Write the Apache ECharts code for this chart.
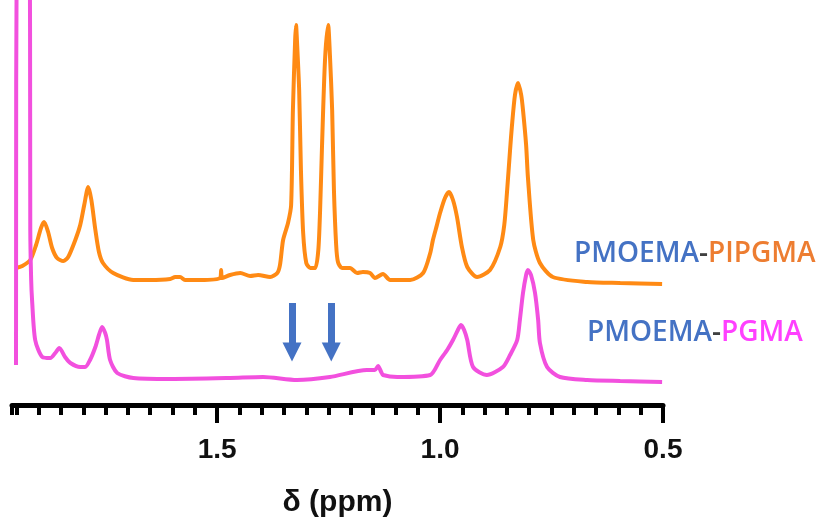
<!DOCTYPE html>
<html>
<head>
<meta charset="utf-8">
<script src="https://cdn.jsdelivr.net/npm/echarts@6.0.0/dist/echarts.min.js"></script>
<style>
  html, body { margin: 0; padding: 0; background: #fff; }
  #chart-container { width: 826px; height: 520px; }
</style>
</head>
<body>
<div id="chart-container"></div>
<script>
// chemical shift (ppm) and intensity (arbitrary units)
var orangePpm = [1.951, 1.937, 1.919, 1.906, 1.895, 1.888, 1.879, 1.870, 1.859, 1.845, 1.834, 1.818, 1.807, 1.798, 1.789, 1.782, 1.773, 1.765, 1.756, 1.733, 1.688, 1.650, 1.605, 1.594, 1.583, 1.572, 1.538, 1.493, 1.491, 1.489, 1.471, 1.448, 1.426, 1.408, 1.381, 1.365, 1.359, 1.352, 1.341, 1.334, 1.330, 1.325, 1.323, 1.321, 1.316, 1.312, 1.307, 1.300, 1.291, 1.280, 1.273, 1.269, 1.265, 1.258, 1.251, 1.247, 1.242, 1.238, 1.233, 1.229, 1.220, 1.202, 1.186, 1.173, 1.157, 1.146, 1.128, 1.112, 1.067, 1.038, 1.022, 1.016, 1.007, 1.000, 0.989, 0.980, 0.971, 0.962, 0.951, 0.939, 0.917, 0.888, 0.865, 0.856, 0.850, 0.843, 0.839, 0.832, 0.825, 0.818, 0.814, 0.807, 0.803, 0.791, 0.776, 0.747, 0.670, 0.596, 0.502];
var orangeInt = [137, 139, 145, 160, 177, 183, 173, 157, 147, 144, 148, 165, 180, 200, 218, 205, 175, 153, 142, 132, 125, 125, 126, 128, 128, 125, 125, 127, 135, 127, 130, 132, 129, 130, 128, 132, 140, 165, 182, 200, 295, 365, 380, 365, 315, 235, 172, 142, 137, 137, 155, 195, 255, 345, 380, 350, 295, 215, 160, 143, 137, 137, 132, 133, 132, 127, 131, 125, 125, 132, 152, 165, 180, 192, 207, 213, 205, 188, 158, 138, 128, 135, 158, 180, 212, 255, 278, 310, 322, 310, 295, 260, 228, 165, 142, 128, 123, 122, 121];

var pinkPpm = [1.951, 1.948, 1.921, 1.919, 1.917, 1.915, 1.908, 1.892, 1.874, 1.863, 1.854, 1.841, 1.829, 1.807, 1.796, 1.785, 1.773, 1.765, 1.758, 1.751, 1.747, 1.740, 1.724, 1.688, 1.605, 1.471, 1.397, 1.321, 1.247, 1.164, 1.146, 1.139, 1.132, 1.128, 1.096, 1.022, 1.000, 0.984, 0.971, 0.960, 0.953, 0.946, 0.939, 0.926, 0.895, 0.859, 0.843, 0.827, 0.821, 0.814, 0.807, 0.803, 0.796, 0.787, 0.780, 0.776, 0.760, 0.731, 0.670, 0.596, 0.502];
var pinkInt = [40, 605, 605, 175, 125, 105, 65, 48, 47, 52, 57, 48, 42, 38, 38, 45, 58, 70, 78, 72, 65, 45, 32, 27, 26, 27, 28, 25, 28, 35, 35, 39, 33, 30, 28, 30, 45, 55, 65, 75, 80, 75, 65, 38, 30, 38, 50, 65, 85, 112, 130, 135, 130, 112, 85, 62, 38, 28, 25, 24, 23];

var majorTicks = [0.5, 1.0, 1.5];
var arrowPpm = [1.332, 1.244];
var arrowFrom = 102;
var arrowTo = 53;

var axisMin = 0.5;
var axisMax = 1.96;

function pairs(xs, ys) {
  return xs.map(function (x, i) { return [x, ys[i]]; });
}

var dom = document.getElementById("chart-container");
var myChart = echarts.init(dom, null, { renderer: "canvas" });
var option;

var labelFont = "600 28px 'Open Sans'";

option = {
  animation: false,
  backgroundColor: "#fff",
  grid: { left: 12, right: 163, top: 0, bottom: 115, outerBoundsMode: "none" },
  xAxis: [
    {
      type: "value",
      position: "bottom",
      inverse: true,
      min: axisMin,
      max: axisMax,
      interval: 0.5,
      name: "δ (ppm)",
      nameLocation: "middle",
      nameGap: 83,
      nameTextStyle: { fontFamily: "Liberation Sans", fontWeight: "bold", fontSize: 30, color: "#111" },
      axisLine: { show: true, lineStyle: { color: "#000", width: 5 } },
      axisTick: { show: true, customValues: majorTicks, length: 18, lineStyle: { color: "#000", width: 4 } },
      axisLabel: {
        customValues: majorTicks,
        margin: 31,
        fontFamily: "Liberation Sans",
        fontWeight: "bold",
        fontSize: 28,
        color: "#111",
        formatter: function (v) { return v.toFixed(1); }
      },
      splitLine: { show: false }
    },
    {
      type: "value",
      position: "bottom",
      inverse: true,
      min: axisMin,
      max: axisMax,
      interval: 0.05,
      axisLine: { show: false },
      axisTick: { show: true, length: 10, lineStyle: { color: "#000", width: 4 } },
      axisLabel: { show: false },
      splitLine: { show: false }
    }
  ],
  yAxis: {
    type: "value",
    min: 0,
    max: 405,
    show: false,
    splitLine: { show: false }
  },
  graphic: [
    {
      type: "text",
      left: 574,
      top: 240,
      style: {
        text: "{b|PMOEMA}{d|-}{o|PIPGMA}",
        rich: {
          b: { fill: "#4472C4", font: labelFont, lineHeight: 32 },
          d: { fill: "#404040", font: labelFont, lineHeight: 32 },
          o: { fill: "#ED7D31", font: labelFont, lineHeight: 32 }
        }
      }
    },
    {
      type: "text",
      left: 587,
      top: 319,
      style: {
        text: "{b|PMOEMA}{d|-}{p|PGMA}",
        rich: {
          b: { fill: "#4472C4", font: labelFont, lineHeight: 32 },
          d: { fill: "#404040", font: labelFont, lineHeight: 32 },
          p: { fill: "#FF40FF", font: labelFont, lineHeight: 32 }
        }
      }
    }
  ],
  series: [
    {
      name: "PMOEMA-PIPGMA",
      type: "line",
      data: pairs(orangePpm, orangeInt),
      showSymbol: false,
      symbol: "none",
      smooth: 0.25,
      lineStyle: { color: "#FF8A14", width: 4 }
    },
    {
      name: "PMOEMA-PGMA",
      type: "line",
      data: pairs(pinkPpm, pinkInt),
      showSymbol: false,
      symbol: "none",
      smooth: 0.25,
      lineStyle: { color: "#F250DE", width: 4 },
      markLine: {
        silent: true,
        symbol: ["none", "triangle"],
        symbolSize: [19, 19],
        label: { show: false },
        lineStyle: { color: "#4472C4", width: 7, type: "solid" },
        data: arrowPpm.map(function (p) {
          return [{ coord: [p, arrowFrom] }, { coord: [p, arrowTo] }];
        })
      }
    }
  ]
};

if (option && typeof option === "object") {
  myChart.setOption(option);
}

window.addEventListener("resize", myChart.resize);
</script>
</body>
</html>
